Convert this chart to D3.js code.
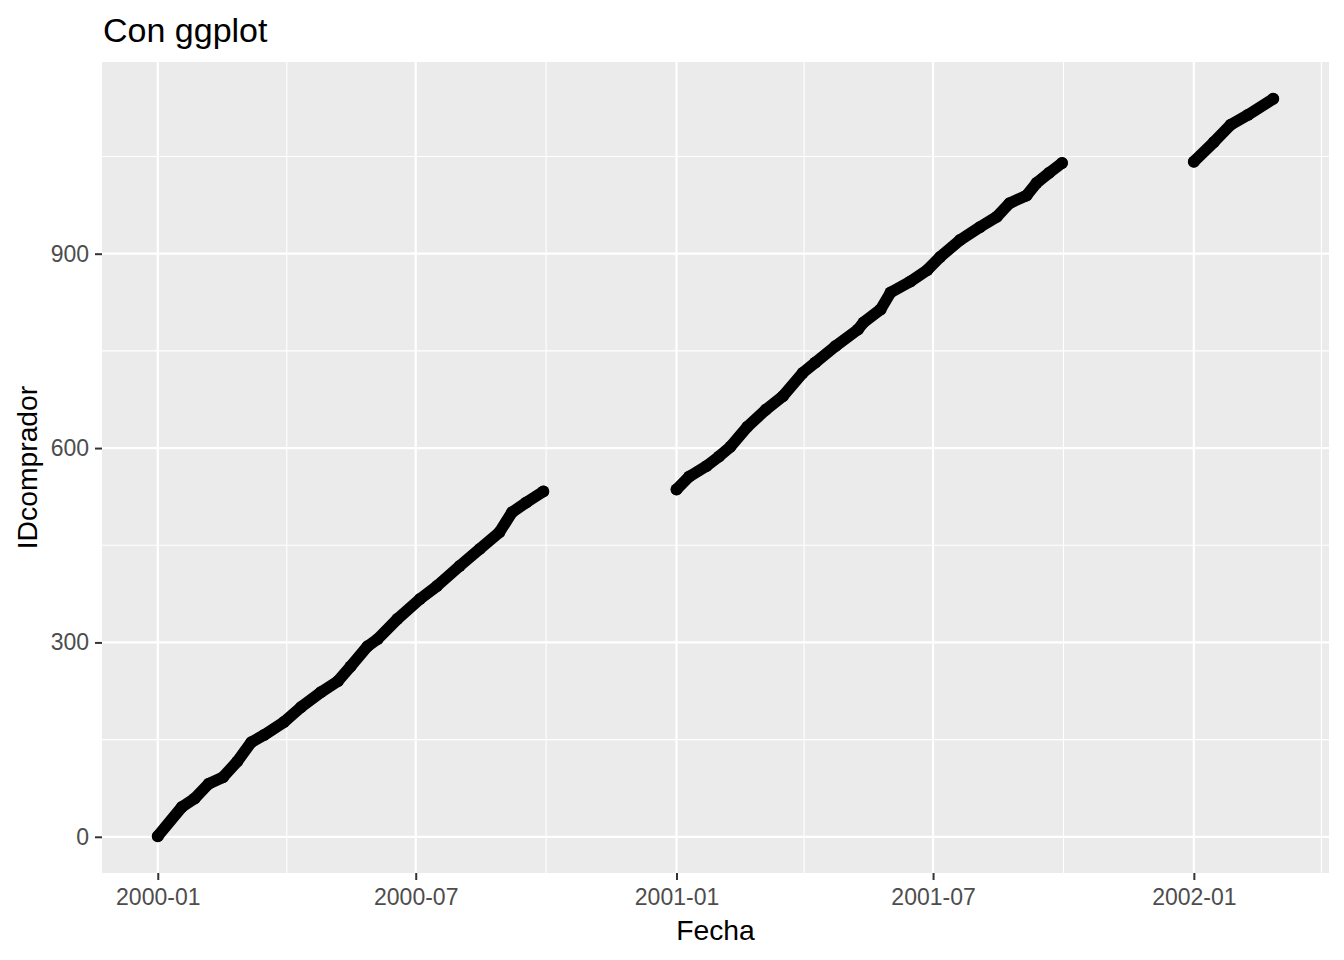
<!DOCTYPE html>
<html>
<head>
<meta charset="utf-8">
<script src="https://cdn.jsdelivr.net/npm/d3@7"></script>
<style>
  body { margin: 0; background: #ffffff; }
  svg { font-family: "Liberation Sans", Arial, sans-serif; }
</style>
</head>
<body>
<svg id="chart" width="1344" height="960"></svg>
<script>
// Tramo 1: 2000
const fechas1 = ["2000-01-01","2000-01-18","2000-01-27","2000-02-06","2000-02-16","2000-02-26",
  "2000-03-07","2000-03-16","2000-03-30","2000-04-11","2000-04-25","2000-05-07","2000-05-16",
  "2000-05-28","2000-06-04","2000-06-18","2000-07-04","2000-07-16","2000-08-01","2000-08-15",
  "2000-08-29","2000-09-07","2000-09-17","2000-09-29"];
const ids1 = [1, 46, 59, 82, 92, 116, 146, 157, 177, 200, 223, 240, 263, 294, 305, 336, 367,
  387, 418, 444, 470, 501, 516, 533];

// Tramo 2: 2001
const fechas2 = ["2001-01-01","2001-01-10","2001-01-22","2001-01-31","2001-02-08","2001-02-20",
  "2001-03-05","2001-03-17","2001-03-31","2001-04-09","2001-04-23","2001-05-09","2001-05-13",
  "2001-05-25","2001-06-01","2001-06-15","2001-06-27","2001-07-06","2001-07-20","2001-08-03",
  "2001-08-15","2001-08-24","2001-09-05","2001-09-12","2001-09-21","2001-09-30"];
const ids2 = [536, 556, 572, 587, 602, 633, 659, 680, 716, 732, 757, 783, 794, 814, 840, 857,
  875, 895, 921, 941, 957, 978, 990, 1009, 1025, 1040];

// Tramo 3: 2002
const fechas3 = ["2002-01-01","2002-01-15","2002-01-27","2002-02-08","2002-02-26"];
const ids3 = [1042, 1072, 1099, 1114, 1139];

const yTicks = [0, 300, 600, 900];
const yMinor = [150, 450, 750, 1050];
const xTicks = ["2000-01-01","2000-07-01","2001-01-01","2001-07-01","2002-01-01"];
const xMinor = ["2000-04-01","2000-10-01","2001-04-01","2001-10-01","2002-04-01"];

const parse = d3.utcParse("%Y-%m-%d");
const fmt = d3.utcFormat("%Y-%m");

const tramos = [[fechas1, ids1], [fechas2, ids2], [fechas3, ids3]].map(([f, v]) =>
  f.map((d, i) => ({fecha: parse(d), id: v[i]})));
const todos = tramos.flat();

const panel = {left: 102, right: 1329, top: 62, bottom: 873};

// expansion del 5% como ggplot
const xExt = d3.extent(todos, d => +d.fecha);
const xPad = (xExt[1] - xExt[0]) * 0.05;
const x = d3.scaleUtc()
  .domain([new Date(xExt[0] - xPad), new Date(xExt[1] + xPad)])
  .range([panel.left, panel.right]);

const yExt = d3.extent(todos, d => d.id);
const yPad = (yExt[1] - yExt[0]) * 0.05;
const y = d3.scaleLinear()
  .domain([yExt[0] - yPad, yExt[1] + yPad])
  .range([panel.bottom, panel.top]);

const svg = d3.select("#chart");

svg.append("rect")
  .attr("x", panel.left).attr("y", panel.top)
  .attr("width", panel.right - panel.left)
  .attr("height", panel.bottom - panel.top)
  .attr("fill", "#ebebeb");

const grid = svg.append("g");
grid.selectAll(".ymin").data(yMinor).enter().append("line")
  .attr("x1", panel.left).attr("x2", panel.right)
  .attr("y1", d => y(d)).attr("y2", d => y(d))
  .attr("stroke", "#ffffff").attr("stroke-width", 1.1);
grid.selectAll(".xmin").data(xMinor.map(parse)).enter().append("line")
  .attr("y1", panel.top).attr("y2", panel.bottom)
  .attr("x1", d => x(d)).attr("x2", d => x(d))
  .attr("stroke", "#ffffff").attr("stroke-width", 1.1);
grid.selectAll(".ymaj").data(yTicks).enter().append("line")
  .attr("x1", panel.left).attr("x2", panel.right)
  .attr("y1", d => y(d)).attr("y2", d => y(d))
  .attr("stroke", "#ffffff").attr("stroke-width", 2.2);
grid.selectAll(".xmaj").data(xTicks.map(parse)).enter().append("line")
  .attr("y1", panel.top).attr("y2", panel.bottom)
  .attr("x1", d => x(d)).attr("x2", d => x(d))
  .attr("stroke", "#ffffff").attr("stroke-width", 2.2);

// puntos
const line = d3.line().x(d => x(d.fecha)).y(d => y(d.id));
const marks = svg.append("g");
tramos.forEach(t => {
  marks.append("path")
    .attr("d", line(t))
    .attr("fill", "none")
    .attr("stroke", "#000000")
    .attr("stroke-width", 11.5)
    .attr("stroke-linecap", "round")
    .attr("stroke-linejoin", "round");
  marks.selectAll(null).data(t).enter().append("circle")
    .attr("cx", d => x(d.fecha))
    .attr("cy", d => y(d.id))
    .attr("r", 6)
    .attr("fill", "#000000");
});

// ejes
const xAxis = d3.axisBottom(x)
  .tickValues(xTicks.map(parse))
  .tickFormat(fmt)
  .tickSize(7)
  .tickPadding(9);
const gx = svg.append("g")
  .attr("transform", `translate(0,${panel.bottom})`)
  .call(xAxis);

const yAxis = d3.axisLeft(y)
  .tickValues(yTicks)
  .tickSize(7)
  .tickPadding(6);
const gy = svg.append("g")
  .attr("transform", `translate(${panel.left},0)`)
  .call(yAxis);

[gx, gy].forEach(g => {
  g.select(".domain").remove();
  g.selectAll(".tick line").attr("stroke", "#333333").attr("stroke-width", 2);
  g.selectAll(".tick text")
    .attr("fill", "#4d4d4d")
    .style("font-size", "23px")
    .style("font-family", "'Liberation Sans', Arial, sans-serif");
});

svg.append("text")
  .attr("x", (panel.left + panel.right) / 2)
  .attr("y", 940)
  .attr("text-anchor", "middle")
  .style("font-size", "28.3px")
  .text("Fecha");

svg.append("text")
  .attr("transform", `translate(37,${(panel.top + panel.bottom) / 2}) rotate(-90)`)
  .attr("text-anchor", "middle")
  .style("font-size", "28.3px")
  .text("IDcomprador");

svg.append("text")
  .attr("x", 103)
  .attr("y", 42)
  .style("font-size", "34px")
  .text("Con ggplot");
</script>
</body>
</html>
